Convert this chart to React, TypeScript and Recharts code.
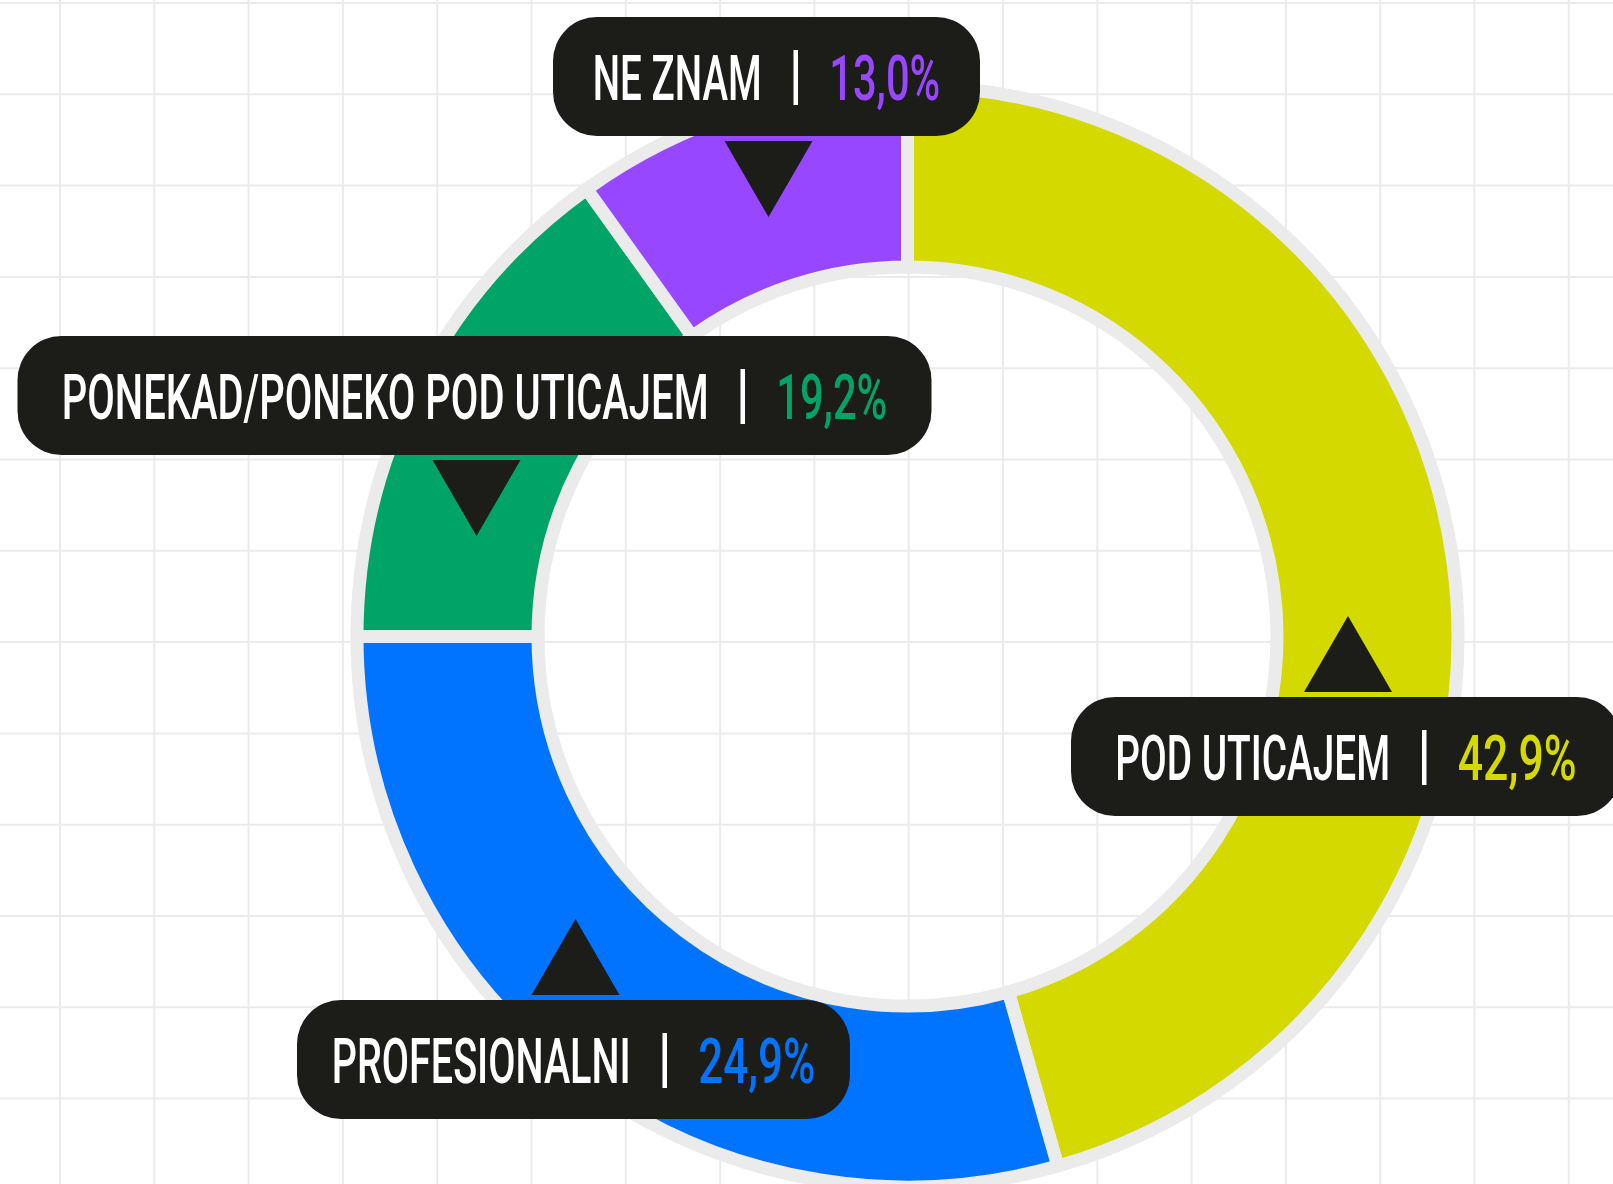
import { PieChart, Pie, Cell } from "recharts";

// slice order: clockwise from 12 o'clock
const categories = ["POD UTICAJEM", "PROFESIONALNI", "PONEKAD/PONEKO POD UTICAJEM", "NE ZNAM"];
const percentLabels = ["42,9%", "24,9%", "19,2%", "13,0%"];
// share of the ring each slice takes in the drawing
const arcShares = [45.6, 29.4, 15.1, 9.9];
const sliceColors = ["#d4d900", "#0073ff", "#00a466", "#9747ff"];

const data = categories.map((name, i) => ({ name, share: arcShares[i], pct: percentLabels[i] }));

const W = 1613;
const H = 1184;
const CX = 907.5;
const CY = 636.5;
const RING = "#ebebeb";
const BOX = "#1c1c18";
const BOX_H = 119;

// callout boxes, same order as the slices
const CALLOUTS = [
  { center: 1346, top: 697, width: 550, nameW: 275, pctW: 119, arrow: "up" },
  { center: 573.5, top: 1000, width: 553, nameW: 299, pctW: 117, arrow: "up" },
  { center: 474.5, top: 336, width: 914, nameW: 647, pctW: 111, arrow: "down" },
  { center: 766.5, top: 17, width: 427, nameW: 169, pctW: 111, arrow: "down" },
];

const FONT_FAMILY = "Roboto";
const FONT_SIZE = 63;
const FONT_WEIGHT = 500;

// the original face is a condensed one, so squeeze a normal face to the measured width
let measureCtx: CanvasRenderingContext2D | null = null;
function naturalWidth(s: string) {
  if (!measureCtx) measureCtx = document.createElement("canvas").getContext("2d");
  if (!measureCtx) return s.length * FONT_SIZE * 0.55;
  measureCtx.font = `${FONT_WEIGHT} ${FONT_SIZE}px ${FONT_FAMILY}`;
  return measureCtx.measureText(s).width;
}

function SqueezedText({ x, y, w, fill, children }: { x: number; y: number; w: number; fill: string; children: string }) {
  const sx = w / naturalWidth(children);
  return (
    <text
      transform={`translate(${x},${y}) scale(${sx},1)`}
      fill={fill}
      fontFamily={FONT_FAMILY}
      fontWeight={FONT_WEIGHT}
      fontSize={FONT_SIZE}
    >
      {children}
    </text>
  );
}

function Grid() {
  const xs = Array.from({ length: 19 }, (_, i) => 60 + (i - 1) * 94.3);
  const ys = Array.from({ length: 14 }, (_, i) => 3 + i * 91.3);
  return (
    <svg width={W} height={H} style={{ position: "absolute", left: 0, top: 0 }}>
      {xs.map((x) => (
        <line key={"v" + x} x1={x} x2={x} y1={0} y2={H} stroke={RING} strokeWidth={2} />
      ))}
      {ys.map((y) => (
        <line key={"h" + y} x1={0} x2={W} y1={y} y2={y} stroke={RING} strokeWidth={2} />
      ))}
    </svg>
  );
}

const renderCallout = (props: any) => {
  const i = props.index;
  const c = CALLOUTS[i];
  const d = data[i];
  const left = c.center - c.width / 2;
  const total = c.nameW + 34 + 33.5 + c.pctW;
  const nameX = c.center - total / 2;
  const sepX = nameX + c.nameW + 34;
  const pctX = sepX + 33.5;
  const base = c.top + 83;
  const tc = c.center + 2;
  const tri =
    c.arrow === "down"
      ? `${tc - 44},${c.top + BOX_H + 5} ${tc + 44},${c.top + BOX_H + 5} ${tc},${c.top + BOX_H + 81}`
      : `${tc - 44},${c.top - 5} ${tc + 44},${c.top - 5} ${tc},${c.top - 81}`;
  return (
    <g key={"callout-" + i}>
      <polygon points={tri} fill={BOX} />
      <rect x={left} y={c.top} width={c.width} height={BOX_H} rx={44} ry={44} fill={BOX} />
      <SqueezedText x={nameX} y={base} w={c.nameW} fill="#ffffff">
        {d.name}
      </SqueezedText>
      <rect x={sepX - 2.25} y={c.top + 33} width={4.5} height={55} fill="#ffffff" />
      <SqueezedText x={pctX} y={base} w={c.pctW} fill={sliceColors[i]}>
        {d.pct}
      </SqueezedText>
    </g>
  );
};

export default function App() {
  return (
    <div
      style={{
        position: "absolute",
        left: 0,
        top: 0,
        width: W,
        height: H,
        background: "#ffffff",
        overflow: "hidden",
      }}
    >
      <Grid />
      <div style={{ position: "absolute", left: 0, top: 0 }}>
        <PieChart width={W} height={H} margin={{ top: 0, right: 0, bottom: 0, left: 0 }}>
          <Pie
            data={data}
            dataKey="share"
            nameKey="name"
            cx={CX}
            cy={CY}
            innerRadius={369.5}
            outerRadius={550.5}
            startAngle={90}
            endAngle={-270}
            stroke={RING}
            strokeWidth={13}
            labelLine={false}
            label={renderCallout}
            isAnimationActive={false}
          >
            {data.map((entry, index) => (
              <Cell key={`cell-${index}`} fill={sliceColors[index]} />
            ))}
          </Pie>
        </PieChart>
      </div>
    </div>
  );
}
